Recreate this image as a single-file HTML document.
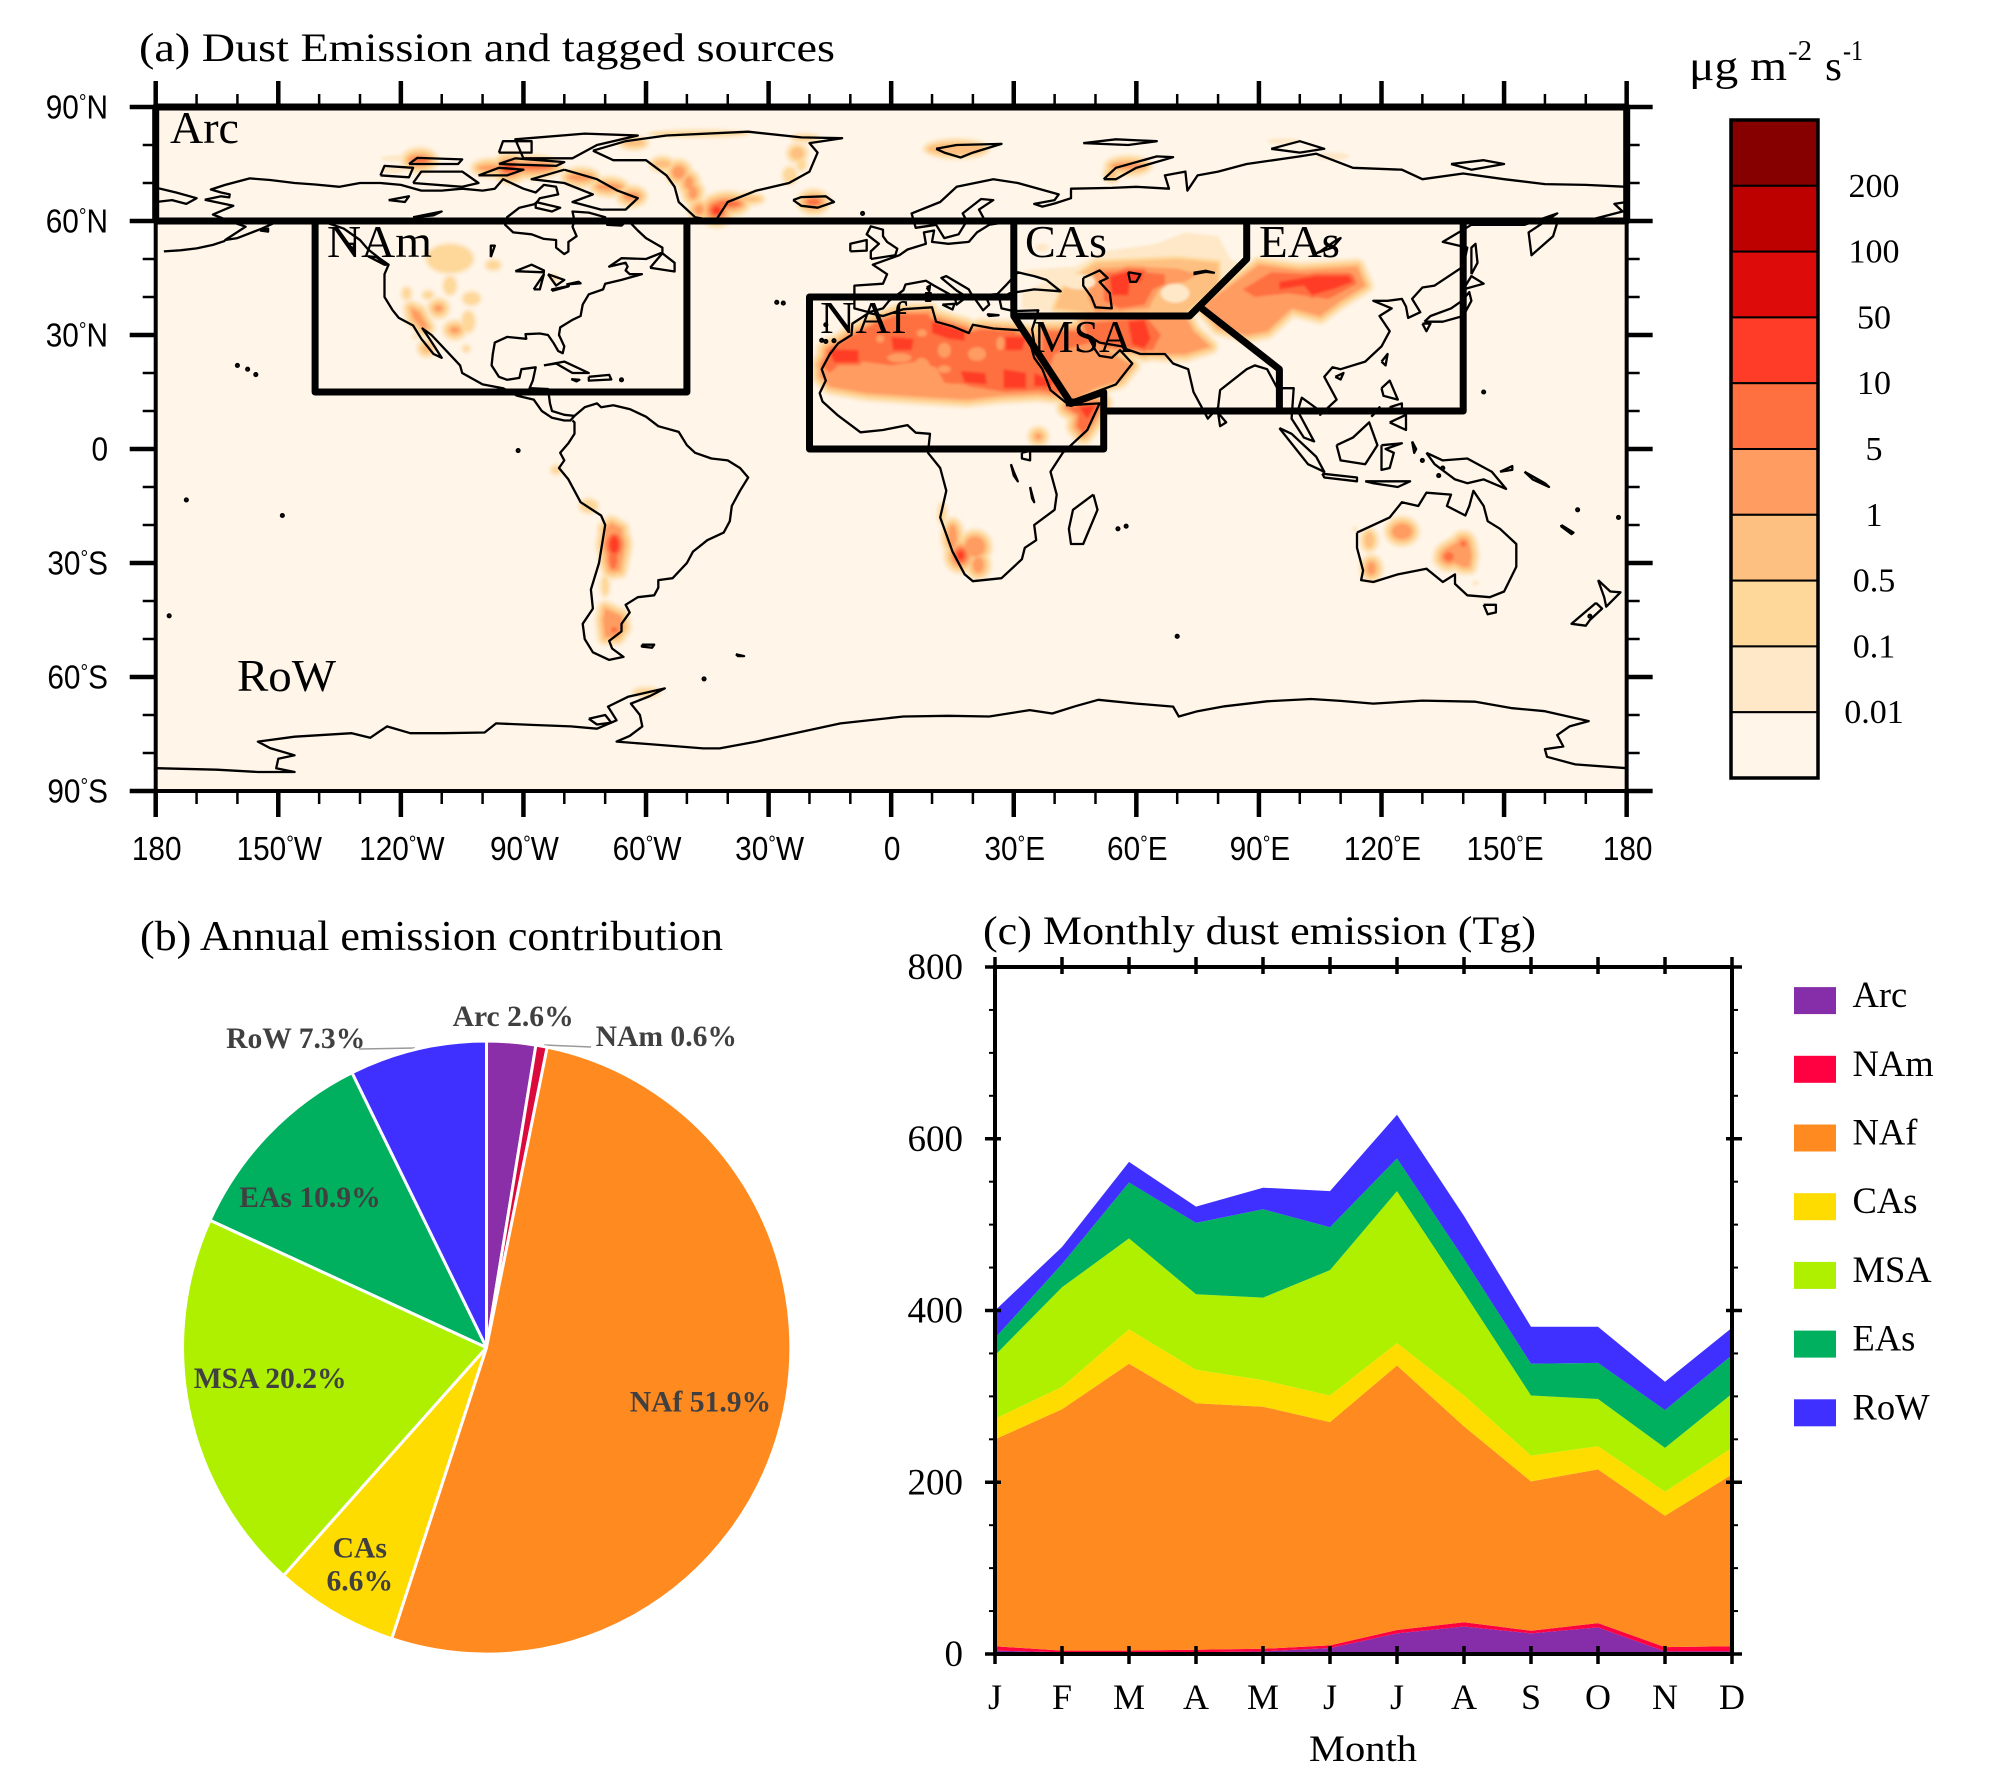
<!DOCTYPE html>
<html lang="en">
<head>
<meta charset="utf-8">
<title>Dust emission and tagged sources</title>
<style>
html,body{margin:0;padding:0;background:#fff;}
svg{display:block;}
.serif{font-family:"Liberation Serif",serif;fill:#000;}
.sans{font-family:"Liberation Sans",sans-serif;fill:#000;}
</style>
</head>
<body>
<svg id="figure" xmlns="http://www.w3.org/2000/svg" width="1997" height="1792" viewBox="0 0 1997 1792">
  <defs>
    <clipPath id="map-clip"><rect x="155.7" y="107" width="1471" height="684"/></clipPath>
    <filter id="soft" x="-5%" y="-5%" width="110%" height="110%"><feGaussianBlur stdDeviation="1.2"/></filter>
  </defs>
  <rect x="0" y="0" width="1997" height="1792" fill="#fff"/>

  <text class="serif" x="139" y="61" font-size="40" textLength="696" lengthAdjust="spacingAndGlyphs">(a) Dust Emission and tagged sources</text>
  <text class="serif" x="140" y="950" font-size="42" textLength="583" lengthAdjust="spacingAndGlyphs">(b) Annual emission contribution</text>
  <text class="serif" x="983" y="944" font-size="40" textLength="553" lengthAdjust="spacingAndGlyphs">(c) Monthly dust emission (Tg)</text>

  <g id="map-layer">
    <rect x="155.7" y="107" width="1471" height="684" fill="#fff5e8"/>
    <g clip-path="url(#map-clip)">
      <g id="dust-layer" filter="url(#soft)"></g>
      <g id="coast-layer" fill="none" stroke="#000" stroke-width="2.3" stroke-linejoin="round"></g>
    </g>
    <g id="map-axis-layer"></g>
    <g id="region-layer" fill="none" stroke="#000" stroke-width="7" stroke-linejoin="round"></g>
    <text class="serif" x="170" y="143" font-size="46" textLength="69" lengthAdjust="spacingAndGlyphs">Arc</text>
    <text class="serif" x="327" y="257" font-size="46" textLength="105" lengthAdjust="spacingAndGlyphs">NAm</text>
    <text class="serif" x="820" y="333" font-size="46" textLength="87" lengthAdjust="spacingAndGlyphs">NAf</text>
    <text class="serif" x="1025" y="257" font-size="46" textLength="82" lengthAdjust="spacingAndGlyphs">CAs</text>
    <text class="serif" x="1259" y="257" font-size="46" textLength="81" lengthAdjust="spacingAndGlyphs">EAs</text>
    <text class="serif" x="1033" y="352" font-size="46" textLength="99" lengthAdjust="spacingAndGlyphs">MSA</text>
    <text class="serif" x="237" y="691" font-size="46" textLength="99" lengthAdjust="spacingAndGlyphs">RoW</text>
  </g>

  <g id="colorbar-layer">
    <text class="serif" x="1689" y="80" font-size="42" textLength="98" lengthAdjust="spacingAndGlyphs">μg m</text>
    <text class="serif" x="1788" y="60" font-size="28" textLength="24" lengthAdjust="spacingAndGlyphs">-2</text>
    <text class="serif" x="1825" y="80" font-size="42" textLength="17" lengthAdjust="spacingAndGlyphs">s</text>
    <text class="serif" x="1843" y="60" font-size="28" textLength="20" lengthAdjust="spacingAndGlyphs">-1</text>
  </g>

  <g id="pie-layer">
    <line x1="359" y1="1049" x2="415" y2="1048" stroke="#9a9a9a" stroke-width="1.5"/>
    <line x1="544" y1="1045" x2="591" y2="1047" stroke="#9a9a9a" stroke-width="1.5"/>
  </g>

  <g id="area-layer">
    <text class="serif" x="1309" y="1761" font-size="37" textLength="108" lengthAdjust="spacingAndGlyphs">Month</text>
  </g>
  <g id="legend-layer"></g>
</svg>

<script>
/* ---------- panel (c) monthly emission, Tg per month ---------- */
var months = ['J','F','M','A','M','J','J','A','S','O','N','D'];
var arcMonthly = [4,2,2,2,3,7,24,32,24,31,3,3];
var namMonthly = [5,2,2,3,3,3,4,5,3,5,5,6];
var nafMonthly = [241,281,334,287,282,260,308,228,174,179,153,200];
var casMonthly = [24,26,40,39,31,31,26,36,30,27,28,31];
var msaMonthly = [74,116,106,88,96,146,177,120,70,55,51,63];
var easMonthly = [20,27,65,83,103,50,38,39,37,42,44,45];
var rowMonthly = [32,20,24,19,25,42,51,50,43,42,33,32];
var sourceNames = ['Arc','NAm','NAf','CAs','MSA','EAs','RoW'];
var sourceColors = ['#862da9','#ff0040','#ff8a1f','#ffdc00','#aef000','#00b05f','#3f30ff'];
var monthlyTicks = [0,200,400,600,800];
var monthlyMinorTicks = [50,100,150,250,300,350,450,500,550,650,700,750];

/* ---------- panel (b) annual contribution, percent ---------- */
var pieValues = [2.6,0.6,51.9,6.6,20.2,10.9,7.3];
var pieColors = ['#8a2fa8','#dc0a3c','#ff8a1f','#ffdc00','#aef000','#00b05f','#3f30ff'];

/* ---------- colour bar ---------- */
var levelLabels = ['200','100','50','10','5','1','0.5','0.1','0.01'];
var levelColors = ['#870000','#bd0000','#de0b0b','#ff3c28','#ff7040','#ff9c62','#fec080','#fed89a','#fee8c8','#fff5e8'];
var dustColors = ['#fee8c8','#fed89a','#fec080','#ff9c62','#ff7040','#ff3c28'];

/* ---------- map axis labels ---------- */
var lonTicks = [-180,-150,-120,-90,-60,-30,0,30,60,90,120,150,180];
var lonLabels = ['180','150°W','120°W','90°W','60°W','30°W','0','30°E','60°E','90°E','120°E','150°E','180'];
var latTicks = [90,60,30,0,-30,-60,-90];
var latLabels = ['90°N','60°N','30°N','0','30°S','60°S','90°S'];

/* ---------- tagged source region outlines [lon,lat,...] ---------- */
var regionArc = [-180,60,-180,90,180,90,180,60,-180,60];
var regionNAm = [-141,60,-141,15,-50,15,-50,60];
var regionNAf = [30,40,-20,40,-20,0,52,0,52,15,44,12,30,35];
var regionCAs = [30,60,30,35,73,35,87,50,87,60];
var regionMSA = [76,37,95,21,95,10];
var regionLow = [52,10,140,10,140,60];
var regionAll = [regionArc,regionNAm,regionNAf,regionCAs,regionMSA,regionLow];
var regionIds = ['arc','nam','naf','cas','msa-eas-divider','southern-east-boundary'];

/* ---------- dust emission: contour patches, level = index into dustColors ---------- */
var dustPatches = [
 {level:3,pts:[-17.5,19,-17.5,22,-15.5,26,-10,30,-4,33.5,2,36,9.5,36.5,10.5,34,18.5,31,22,32,30,31.5,36,27,42,18,44,13.5,36,14.5,26.7,14,18.5,13,6.3,13.8,-6,14.7,-15,16.4]},
 {level:4,pts:[-17,22,-15,26,-10,29.6,-4,33,2,35.5,9,35.5,10,33.5,18.5,30.5,22,31.5,30,31,36,26,41,18,43,14.5,36,15.5,28,15,22,16,13,17.5,11,21.5,6,23,0,22,-7,23,-12,23,-15,20]},
 {level:5,pts:[-15,25.5,-14,26.2,-8,26,-8,22.8,-14,22.8]},
 {level:5,pts:[0,29.5,5.5,29,5,26,0.5,26]},
 {level:5,pts:[10,33.5,18,31,18,28.5,14,29,10,30.5]},
 {level:5,pts:[28,29.5,33,29.5,32,26,28,26]},
 {level:5,pts:[17,20.5,23,20,23.4,17,18,17.5]},
 {level:5,pts:[27.5,21,33,20,33,16,27.5,16]},
 {level:5,pts:[35,20,39.5,18,39,16.4,35,16.5]},
 {level:3,pts:[36,30,45,32,48,30,51,27,55,24.5,59,22,56,18,50,16,45,13,43,13,39,20,35,27]},
 {level:4,pts:[37,31,47,31,49,28,45,27,40,25,39,22,37,24]},
 {level:3,pts:[47,35,72,35,74,31,78,27,72,25,67,25,58,26,50,28]},
 {level:4,pts:[47,33,57,34,63,34,66,30,64,26,52,27,48,30]},
 {level:5,pts:[58,33.5,62,34,63.5,29,62,26.5,59,27.5]},
 {level:4,pts:[43,11,51.5,12,49,7,47,4,45.5,6,46,9]},
 {level:5,pts:[46,11,50,11.5,48,8]},
 {level:0,pts:[32,47,45,48,52,52,65,54,72,57,80,56,83,50,87,48,82,42,74,36,50,35,40,36,32,37,32,41,38,44]},
 {level:2,pts:[50,49,70,50,80,49,80,43,72,36,48,36,40,37,42,42,46,46]},
 {level:3,pts:[50,47.5,60,48,70,47.5,75,46,72,44,66,43,63,37,50,36,48,40]},
 {level:4,pts:[52,46.5,62,46.5,67,46,67,43.5,64,42,62,38,56,37,52,39]},
 {level:5,pts:[53.5,45.4,58,46.7,61.7,46.5,61,44,58.4,44,58,40.5,54,40.5]},
 {level:3,pts:[76,37.5,90,48.5,100,47,114,48,116,43,110,39,105,35,98,37,92,31,87,30,80,32]},
 {level:4,pts:[86,42,93,46.5,102,46,113,46,114,43.5,107,39.5,97,41,89,40]},
 {level:5,pts:[95,44,104,45.6,112,45.6,113,44,108,42,103,40.5,101,43,95,42]},
 {level:3,pts:[-68.5,-19.5,-66,-21,-65.5,-27,-66.5,-32,-69,-32,-70,-26,-70,-21]},
 {level:3,pts:[-70,-42,-66,-44,-65.5,-47,-67,-49.5,-70,-49.5,-70.5,-45]},
 {level:3,pts:[139.5,-24,141.5,-25,142,-28,141.5,-31,140,-31,137,-29.5,134.5,-29,135.5,-26.5,137,-25.5]},
 {level:3,pts:[-117.5,37,-115.5,36,-113.5,32,-114.5,31.5,-117,34.5]}
];
/* [lon, lat, lon radius, lat radius, level] */
var dustBlobs = [
 [-67.8,-25.2,1.1,2.2,5],[-68,-28.5,1,3,4],[-70,-36,0.8,2.5,1],[-74,-15,2,1.6,1],[-82,-5.5,1,0.9,1],[-67.8,-47.6,0.8,0.8,4],
 [12.5,-17,0.8,2.5,1],[15,-23,1,3,3],[17,-28,0.8,1.2,5],[20.5,-25.7,2.4,2.6,3],[21.3,-30.5,1.3,2,3],
 [125,-21.7,2.4,2,3],[117,-24,1.1,2,2],[117.5,-31.4,1,1.6,3],[136.5,-28.3,1.2,1.2,4],[140,-25,0.7,0.8,4],[143,-35.3,0.8,0.7,0],[113.5,-21,0.7,0.7,0],
 [-108,50.1,5.5,3.6,1],[-97.4,48.4,1.6,1.1,1],[-108,43,1.4,2.2,1],[-118.6,40.9,0.9,1.4,1],[-113.3,40.5,1.1,0.9,1],[-102.7,39.6,1.9,1.5,1],
 [-110.8,37,0.9,0.8,3],[-103.5,33.5,1.4,2.6,1],[-106.8,31.3,1.1,0.7,3],[-113.7,26.5,1.2,1.2,2],[-104,26.4,0.6,0.6,1],[-116.5,29.5,1,0.8,0],[-82.3,44.9,0.5,0.5,1],
 [-60,-64,3,1,1],[36,3.3,0.7,0.7,3],
 [-42.7,62.8,1,1,5],[-40,64.5,3,0.7,4],[-35,65.8,3,0.6,2],[-47,63,1,1.2,3],
 [-56,75,2,1,2],[-52,72.8,1.5,1.6,3],[-49.5,70,1,1.6,3],[-48.5,67.5,1,1.6,3],
 [-63,80.5,2.5,0.7,2],[-47,83,12,0.6,1],[-23,77.8,1.5,1.5,2],[-24.8,72,1.5,2,1],[-21,81.8,3,0.8,1],[-22,75,1,1.5,1],
 [-93.3,73.9,1.4,0.6,5],[-88,74.2,5,0.5,4],[-98,74,3,0.6,3],[-76,71.5,3,0.8,3],[-69,69,3,0.8,3],[-63.5,66.5,2,1,3],[-115.4,76,2,0.6,4],[-120,76.5,5,0.8,0],[-122,73.5,3,1,0],[-100,73,2,0.8,1],
 [-19,65,1.5,0.7,4],[-18,65.3,4,1,0],[16,79,7,1.5,2],[58,74.5,4,0.8,3],[54,72.5,1,1.4,2],[96,81,4,0.8,0],[108,77,4,1,0],[37,53,1.6,1,0]
];
/* lower-emission pockets inside the contours [lon, lat, lon radius, lat radius, level] */
var dustPockets = [
 [13,26,1.6,2,3],[21,25,2.2,1.8,3],[7.5,30.5,1.3,1,3],[-2.7,29,1,1,3],[2,24,3,1.2,3],[7.5,21.5,2,2.5,3],[16,16,3.5,1.2,3],[26.7,27.8,1,1.8,3],[13,21,1.6,1,3],
 [69.5,41,3.5,2.5,0],[46,44,4,2,0]
];

/* ---------- coastlines [lon,lat,...] ---------- */
var coastNorthAmerica = [-168,65.6,-164,66.5,-162,66.2,-161.9,67,-164,67.5,-166.5,68.3,-163,69.5,-157,71.2,-152,70.8,-146,70,-141,69.6,-135,69,-130,70,-125,70,-120,69.5,-115,68,-110,68,-105,68.5,-100,68,-97,68.5,-95,71,-92,69.5,-90,68.5,-87,67.5,-85,69.5,-82,69,-81.5,67,-86,66,-87,64.5,-91,63.5,-94,61,-94.5,59,-92.5,57,-88,56.5,-85,55.3,-82,55,-82,53,-80,51.3,-79,52,-79,54.5,-77,56,-78,58.5,-77.5,60,-78,62.5,-74,62.2,-70,61,-69.5,59,-66,58.8,-64.5,60.3,-62,57.5,-60,55.5,-56,53,-56,51.7,-60,50,-66,50.2,-69,48,-65,49,-64.5,48,-65,47,-64,46,-61,46,-66,44.5,-70,43.5,-70.5,42,-74,40.7,-75.5,38,-76,35,-78,34,-81,32,-81.3,30,-80,27,-80.4,25.2,-81.5,25.8,-82.7,28,-84,30,-86,30.4,-89.5,30.2,-89.3,29,-94,29.5,-97,28,-97.5,25,-97.8,22,-96,19,-94,18.2,-91,18.7,-90.5,21,-87,21.5,-87.7,18,-88.5,16,-84,15.8,-83.5,12,-83,10,-80,9,-77.5,8.7,-78.5,7.5,-80,7.5,-83,8.2,-85.5,10,-87.5,13,-91.5,14,-95,16,-100,17,-105,20,-105.5,22,-109,26,-112.5,30,-114.7,31.7,-113,29,-110,24,-112,25,-115,29,-117,32.5,-120.5,34.5,-122,36.5,-124,40,-124,46,-123,48.5,-125,50,-128,52.5,-130,55,-134,58,-138,59.5,-144,60,-148,60.5,-151,59.5,-154,58,-160,55.5,-163,55,-158,58.5,-162,60,-166,61.7,-161,64,-168,65.6];
var coastSouthAmerica = [-77.5,8.7,-75,11,-72,12,-71,11,-68,11.5,-64,10.5,-60,8.5,-57,6,-52,4.5,-50,1,-48,-1,-44,-2.5,-40,-3,-37,-5,-35,-7.5,-37,-11,-39,-15,-39.5,-19,-41,-22,-45,-24,-48.5,-27,-50,-30,-53.5,-34,-57,-34.5,-57,-36.5,-58,-38.5,-62,-39,-65,-41,-64,-43,-66,-46,-66,-48,-69,-50.5,-68.3,-52.5,-65.5,-54.7,-69,-55.5,-73,-53.5,-75,-50,-75.5,-46,-73,-42,-73.5,-37,-71.5,-30,-70,-20,-71,-17.5,-76,-14,-79,-8,-81.3,-5,-80,-3,-81,-1,-79,1.5,-77.5,4,-77.5,7,-78,7.5];
var coastAfrica = [-5.5,35.8,-2,35,3,36.8,10,37.3,11,33.5,15,32.3,19,30.5,20,32.7,25,31.7,32,31.2,34,28,35,24,37,21,39,15.5,43,12,43,11.5,51,12,48,5,42,-1,39,-6,40.5,-12,40,-16,35,-20,35.5,-24,32.7,-26,32,-29,27,-34,20,-34.8,18,-33,15,-27,12,-18,13.5,-11,12,-5,9,-1,9.5,4,6,4.3,4,6.3,-2,5,-7.5,4.4,-13,8.8,-16.8,12.5,-17.5,14.7,-16,18,-17,21,-15,25,-13,27.8,-9.7,30,-9.5,33,-5.5,35.8];
var coastEurasiaNorth = [-5.5,36,-9,37,-9,43,-2,43.5,-1,46,-4.5,48.5,2,51,4,52.5,8.5,54,8,57,10.5,57.5,10,54.5,14,54,19,54.5,21,57,24,59,30,60,23,60,21.5,63,25,65.5,22,65.8,17.5,62,18.5,60,16.5,56.5,13,55.5,11,59,6,58.2,5,62,12,65,16,69,25,71,31,70,41,67,40,65.5,35,64.5,37,63.8,40,64.6,44,66,44,68.5,54,68.7,60,69,68,68.5,67,72,72,73,72.5,68,75,72,80,73,87,75,100,77,104,77.7,113,74,125,73.5,130,71,140,72.5,150,71,160,69.7,170,69.5,180,69];
var coastChukotka = [-180,68.8,-175,67.5,-170,66,-172.5,64.5,-176,65.5,-180,65];
var coastEurasiaSouth = [180,65,177,64.5,179,62.5,170,60,163,59.5,162,56,156.7,51,156,57,163,62,155,59,142,59,135,54.5,141,53,140,48,133,43,130,42.5,127.5,39.5,129.5,36,126.5,34.5,126,37.5,125,39.5,121.5,39,118,39,122.5,37,119.5,35,122,31,120,27,116,23,110,21,108,21.5,106,19,109,13,105,9,105,10,100.5,13.5,99.5,10,103.5,2,101,3,98,8,98.5,16,94.5,16,92,21,89,22,87,21,80.5,15.5,80,11,77.5,8,74,15,72.7,21,69,22.5,67,25,61,25,57,26.5,56.5,27,51,28,48,30,50,26,51,24.5,54,24,56,26,59,22.5,55,17,45,13,43,13,39,21,35,28,34.5,31.5,36,36.5,30,36.3,27,37,26.5,39.5,29,41,35,42,41.5,41.5,38,44.5,35,45.5,33,46,31,46.5,28,43,26,40.8,23,40.5,24,38,22.5,36.5,19.5,41,19,42,13.5,45.5,12.3,45,16,41.7,18.5,40,16,38,15.5,40,10.5,43,8.5,44.3,3.5,43.3,3,41.8,-0.5,39,-2,37,-5.5,36];
var coastGreenland = [-73,78.5,-65,81,-55,82.5,-35,83.5,-22,82,-12,81.8,-20,80.5,-18,78,-20,73,-25,70,-33,68,-40,65,-43,60,-48,61,-52,65,-53,69,-55,72,-60,76,-68,76,-73,78.5];
var coastBaffin = [-80,73.5,-72,71,-67,68,-62,66,-65,63,-71,63,-78,65,-73,67,-80,70,-88,71,-80,73.5];
var coastEllesmere = [-90,76.5,-78,76.5,-72,80,-62,82.5,-75,83,-92,81.5,-90,76.5];
var coastVictoria = [-117,70,-105,69,-101,70,-105,73,-115,73,-117,70];
var coastBanks = [-125,72,-118,71.5,-117,74,-124,74.5,-125,72];
var coastMelville = [-118,75,-106,75,-105,76.2,-116,76.6,-118,75];
var coastDevon = [-96,75,-82,74.5,-80,75.5,-92,76.5,-96,75];
var coastAxel = [-96,78,-88,78,-88,81,-95,81,-96,78];
var coastSomerset = [-101,72,-94,72,-90,73.5,-96,74,-101,72];
var coastSouthampton = [-87,65,-81,63.5,-83,62.5,-87,63.5,-87,65];
var coastNewfoundland = [-59,47.7,-53,46.7,-53,49,-56,51.5,-59,47.7];
var coastIceland = [-24,65.5,-22,66.3,-16,66.5,-14,65,-18,63.5,-22,64,-24,65.5];
var coastSvalbard = [11,79,16,80,27,80.3,20,78,17,76.7,13,78,11,79];
var coastNovaya = [52,71,55,74,65,77,69,76.8,60,74,55,71,52,71];
var coastFranzJosef = [47,80.5,55,81.5,65,81,58,80,47,80.5];
var coastSevernaya = [93,79,100,81,106,79,100,78,93,79];
var coastNewSiberian = [137,75,145,76,150,75,142,73.5,137,75];
var coastBritain = [-5,50,1,51,1.5,52.7,-1,54.5,-2,56,-2,57.7,-5,58.6,-6,56.5,-3,54,-5,52,-5,50];
var coastIreland = [-10,52,-6,52.2,-6,55,-10,54,-10,52];
var coastHonshu = [130.5,33.5,135,33.5,140,35,142,39,141.5,41.3,139.7,39,137,37,132,35,130.5,33.5];
var coastHokkaido = [140,42,145,43.5,142,45.5,140,42];
var coastKyushu = [130,33,132,33,131,31,130,33];
var coastSakhalin = [142,46,143.5,49,143,54,142,53,142,46];
var coastTaiwan = [120,23,121.5,25,121,22,120,23];
var coastHainan = [108.7,19,110.7,20,110,18.3,108.7,19];
var coastLuzon = [120,16,122,18,124,13,120.5,14,120,16];
var coastMindanao = [122,7,126,9,126,5,122,7];
var coastVisayas = [122,11,125,12,125,10,122,10,122,11];
var coastPalawan = [117.5,8.5,119.5,11,119,10,117.5,8.5];
var coastBorneo = [109,1,113,3,117,7,119,1,116,-4,110,-3,109,1];
var coastSumatra = [95,5.5,98,4,104,-2,106,-6,102,-4,95,5.5];
var coastJava = [105.5,-6.5,114,-7.5,114,-8.5,106,-7.5,105.5,-6.5];
var coastSulawesi = [120,1,125,1.5,121,0,123,-1,122,-5,120,-5.5,120,1];
var coastTimor = [116,-8.5,125,-8.5,127,-8.5,124,-10,118,-9,116,-8.5];
var coastHalmahera = [127.5,2,128.5,0,128,-1,127.5,2];
var coastNewGuinea = [131,-1,135,-3,141,-2.5,147,-6,150.5,-10.5,145,-8,141,-9,138,-8,133,-4,131,-1];
var coastNewBritain = [149,-6,152,-4.5,152,-5.5,149,-6];
var coastSolomon = [155,-6,160,-9,161,-10,157,-8,155,-6];
var coastNewCaledonia = [164,-20,167,-22,166.5,-22.4,164,-20.4,164,-20];
var coastSriLanka = [80,9.5,82,7,80.5,6,80,9.5];
var coastMadagascar = [49.5,-12,50.5,-16,47,-25,44,-25,43.5,-21,44.5,-16,49.5,-12];
var coastAustralia = [114,-22,114,-26,115.5,-32,115,-34.5,118,-35,124,-33,131,-31.5,135,-35,138,-33,138,-35.5,141,-38.5,146.5,-39,150,-37.5,153,-31,153,-25,149,-21,146,-19,145,-15,142.5,-11,141.5,-15,140.5,-17.5,136,-15,137,-12,131,-11.5,129,-15,125,-14,122,-18,114,-22];
var coastTasmania = [145,-41,148,-41,148,-43,146,-43.5,145,-41];
var coastNZNorth = [173,-34.5,176,-37.5,178.5,-37.7,175,-41.5,174.5,-39,173,-34.5];
var coastNZSouth = [172.5,-40.5,174,-42,171,-45,170,-46.5,166.5,-46,172.5,-40.5];
var coastCuba = [-85,22,-80,23,-74,20,-78,20,-82,22.5,-85,22];
var coastHispaniola = [-74,19,-69,19.5,-68.5,18.3,-74,18,-74,19];
var coastJamaica = [-78.3,18.4,-76.3,18.2,-77,17.8,-78.3,18.4];
var coastVancouver = [-128,50.7,-124,48.5,-123.5,48.5,-126,50.5,-128,50.7];
var coastHaidaGwaii = [-133,54,-131.5,54,-131.5,52.5,-133,54];
var coastKodiak = [-154.5,57.5,-152.5,58,-152.5,57.2,-154.5,57.5];
var coastAleutians = [-178,52,-174,52.3,-170,52.8,-166,53.7,-163,54.8];
var coastSardinia = [8.3,41,9.7,41,9.6,39,8.5,39,8.3,41];
var coastCorsica = [8.7,42.5,9.5,43,9.3,41.5,8.7,42.5];
var coastSicily = [12.5,38,15.5,38.2,15,36.7,12.5,38];
var coastCrete = [23.5,35.5,26.3,35.2,24,35,23.5,35.5];
var coastCyprus = [32.5,35,34.5,35.6,33.5,34.7,32.5,35];
var coastFalklands = [-61,-51.5,-58,-51.5,-58.5,-52.3,-61,-52,-61,-51.5];
var coastGeorgia = [-38,-54,-36,-54.5,-37.5,-54.5,-38,-54];
var coastAntarctica = [-180,-84,-165,-84.4,-155,-85,-146,-85,-150.5,-84,-150,-81.5,-146,-80.6,-152,-78.7,-155,-77,-146,-75.7,-132,-74.8,-127.5,-76,-123.4,-73,-117.7,-74.8,-109.6,-74.8,-99.5,-74.6,-96.7,-72.2,-88,-72.6,-78.4,-73,-72,-73.6,-67.2,-71.4,-69.3,-67.8,-64.4,-65.2,-55.4,-63,-59,-65,-63.7,-67,-61.5,-70,-60.9,-73,-64,-75.5,-67.2,-77,-60,-77.6,-46,-78.8,-42,-78.8,-33,-77,-23.6,-74.8,-12.4,-72.2,3,-70.4,14,-70.2,24,-70.4,33.9,-68.7,39.4,-69.6,45,-67.7,50.7,-66,60,-67,69,-67.8,70.4,-70.4,75,-69,81.6,-67.7,92,-66.4,102.8,-65.8,110,-66.3,118,-67,130,-66.2,143,-66.5,152,-68.2,160,-69,170.7,-71.6,166,-73,163,-75.3,164.5,-78.3,160,-79,160.5,-81,167.4,-83,180,-84];
var coastRonneIsland = [-74,-71,-70,-70,-68.5,-72,-72,-72.5,-74,-71];
var coastLakeSuperior = [-92,46.8,-88,48.5,-85,47,-85,46.5,-92,46.8];
var coastLakeMichigan = [-87.5,42,-85,46,-86,42,-87.5,42];
var coastLakeHuron = [-84,46,-80,44.5,-82,43,-84,46];
var coastLakeErie = [-83,41.6,-79,42.8,-78.9,42.9,-83,42,-83,41.6];
var coastLakeOntario = [-79.5,43.3,-76,43.6,-76.5,44,-79.5,43.3];
var coastGreatBear = [-123,65.5,-118,66.5,-119,65,-123,65.5];
var coastGreatSlave = [-117,61,-110,62.5,-112,61.5,-117,61];
var coastWinnipeg = [-98,50.5,-97,53.5,-98,53.5,-98,50.5];
var coastCaspian = [47,45,51,47,53,45,51,44,53.5,41,54,37,50,37.3,49,40,47,43,47,45];
var coastAral = [58,46.5,61,46,60,44,58.5,44,58,46.5];
var coastBalkhash = [74,46,77,46.6,79,46.4,77,46.9,74,46.4];
var coastBaikal = [104,51.5,108,53,110,55.5,109,55,105,52,104,51.5];
var coastVictoriaLake = [32,-1,34,-0.5,34,-3,32,-2.5,32,-1];
var coastTanganyika = [29.3,-4,30,-7,31,-8.5,30,-6,29.3,-4];
var coastMalawi = [34,-10,35,-14,34.5,-13,34,-10];
var coastlines = [coastNorthAmerica,coastSouthAmerica,coastAfrica,coastEurasiaNorth,coastChukotka,coastEurasiaSouth,coastGreenland,coastBaffin,coastEllesmere,coastVictoria,coastBanks,coastMelville,coastDevon,coastAxel,coastSomerset,coastSouthampton,coastNewfoundland,coastIceland,coastSvalbard,coastNovaya,coastFranzJosef,coastSevernaya,coastNewSiberian,coastBritain,coastIreland,coastHonshu,coastHokkaido,coastKyushu,coastSakhalin,coastTaiwan,coastHainan,coastLuzon,coastMindanao,coastVisayas,coastPalawan,coastBorneo,coastSumatra,coastJava,coastSulawesi,coastTimor,coastHalmahera,coastNewGuinea,coastNewBritain,coastSolomon,coastNewCaledonia,coastSriLanka,coastMadagascar,coastAustralia,coastTasmania,coastNZNorth,coastNZSouth,coastCuba,coastHispaniola,coastJamaica,coastVancouver,coastHaidaGwaii,coastKodiak,coastAleutians,coastSardinia,coastCorsica,coastSicily,coastCrete,coastCyprus,coastFalklands,coastGeorgia,coastAntarctica,coastRonneIsland,coastLakeSuperior,coastLakeMichigan,coastLakeHuron,coastLakeErie,coastLakeOntario,coastGreatBear,coastGreatSlave,coastWinnipeg,coastCaspian,coastAral,coastBalkhash,coastBaikal,coastVictoriaLake,coastTanganyika,coastMalawi];
/* small islands [lon,lat] */
var smallIslands = [[-160,22],[-157.5,21],[-155.5,19.6],[-172.5,-13.4],[-149,-17.5],[-176.7,-43.9],[-91.3,-0.4],[-16,28.3],[-14,28.5],[-17,28.6],[-26.4,38.4],[-28,38.6],[-45.8,-60.5],[70,-49.3],[55.5,-21],[57.5,-20.3],[-7,62],[168,-16],[178,-18],[-16,32.7],[-61,15],[-66,18.2],[135,-5],[130,-3],[134,-7],[145,15],[171,-44]];

var SVGNS = 'http://www.w3.org/2000/svg';

/* ---------- axis functions ---------- */
function lonX(lon){ return 155.7 + (lon + 180) * 4.086; }
function latY(lat){ return 449 - lat * 3.8; }
function monthX(i){ return 995 + i * (737 / (months.length - 1)); }
function tgY(v){ return 1654 - v * (687 / 800); }
function pieAngle(pct, total){ return pct / total * 2 * Math.PI; }
function levelY(i){ return 120 + i * 65.8; }

function geoPath(arr){
  var d = '';
  for (var i = 0; i < arr.length; i += 2) {
    d += (i === 0 ? 'M' : 'L') + lonX(arr[i]).toFixed(1) + ' ' + latY(arr[i + 1]).toFixed(1);
  }
  return d;
}
function make(tag, attrs, parent){
  var el = document.createElementNS(SVGNS, tag);
  for (var k in attrs) { el.setAttribute(k, attrs[k]); }
  parent.appendChild(el);
  return el;
}

/* ---------- dust field ---------- */
(function(){
  var g = document.getElementById('dust-layer');
  var halo = 3;
  for (var k = 0; k < dustColors.length; k++) {
    dustPatches.forEach(function(p){
      if (p.level < k) { return; }
      var el = make('path', {d: geoPath(p.pts) + 'Z', fill: dustColors[k], stroke: dustColors[k], 'stroke-width': 2 * halo * (p.level - k), 'stroke-linejoin': 'round'}, g);
      
      
    });
    dustBlobs.forEach(function(b){
      if (b[4] < k) { return; }
      var el = make('ellipse', {cx: lonX(b[0]), cy: latY(b[1]), rx: b[2] * 4.086 + halo * (b[4] - k), ry: b[3] * 3.8 + halo * (b[4] - k), fill: dustColors[k]}, g);
      
      
    });
  }
  dustPockets.forEach(function(b){
    var el = make('ellipse', {cx: lonX(b[0]), cy: latY(b[1]), rx: b[2] * 4.086, ry: b[3] * 3.8, fill: dustColors[b[4]]}, g);
    
    
  });
  g = document.getElementById('coast-layer');
  coastlines.forEach(function(c){
    var el = make('path', {d: geoPath(c)}, g);
    
    
  });
  smallIslands.forEach(function(s){
    var el = make('circle', {cx: lonX(s[0]), cy: latY(s[1]), r: 1.4}, g);
    
    
  });
})();

/* ---------- map axes ---------- */
(function(){
  var g = document.getElementById('map-axis-layer');
  function seg(x1, y1, x2, y2, w, name){
    var el = make('line', {x1: x1, y1: y1, x2: x2, y2: y2, stroke: '#000', 'stroke-width': w}, g);
    
    
  }
  var x0 = lonX(-180), x1 = lonX(180), y0 = latY(90), y1 = latY(-90);
  seg(x0, y0, x1, y0, 4, 'map-top-axis');
  seg(x0, y1, x1, y1, 4, 'map-bottom-axis');
  seg(x0, y0, x0, y1, 4, 'map-left-axis');
  seg(x1, y0, x1, y1, 4, 'map-right-axis');
  var lon, lat;
  for (lon = -180; lon <= 180; lon += 10) {
    var major = lon % 30 === 0;
    var len = major ? 26 : 13;
    var w = major ? 4.5 : 2.5;
    seg(lonX(lon), y0, lonX(lon), y0 - len, w, 'map-top-tick');
    seg(lonX(lon), y1, lonX(lon), y1 + len, w, 'map-bottom-tick');
  }
  for (lat = -90; lat <= 90; lat += 10) {
    var majorLat = lat % 30 === 0;
    var lenLat = majorLat ? 26 : 13;
    var wLat = majorLat ? 4.5 : 2.5;
    seg(x0, latY(lat), x0 - lenLat, latY(lat), wLat, 'map-left-tick');
    seg(x1, latY(lat), x1 + lenLat, latY(lat), wLat, 'map-right-tick');
  }
  function label(str, x, y, anchor, name){
    var t = make('text', {x: 0, y: 0, 'text-anchor': anchor, 'class': 'sans', 'font-size': 31, transform: 'translate(' + x + ' ' + y + ') scale(0.96 1.08)'}, g);
    
    
    var parts = str.split('°');
    t.appendChild(document.createTextNode(parts[0]));
    if (parts.length > 1) {
      var deg = make('tspan', {'font-size': 20, dy: -9}, t);
      
      
      deg.textContent = '°';
      var rest = make('tspan', {dy: 9}, t);
      
      
      rest.textContent = parts[1];
    }
  }
  lonTicks.forEach(function(v, i){ label(lonLabels[i], lonX(v) + 1, 860, 'middle', 'longitude-tick-label'); });
  latTicks.forEach(function(v, i){ label(latLabels[i], 108, latY(v) + 11.5, 'end', 'latitude-tick-label'); });
  var r = document.getElementById('region-layer');
  regionAll.forEach(function(a, i){
    var el = make('path', {d: geoPath(a)}, r);
    
    
  });
})();

/* ---------- colour bar ---------- */
(function(){
  var g = document.getElementById('colorbar-layer');
  levelColors.forEach(function(c, i){
    var el = make('rect', {x: 1731, y: levelY(i), width: 87, height: 65.8, fill: c, stroke: '#000', 'stroke-width': 2}, g);
    
    
  });
  var box = make('rect', {x: 1731, y: levelY(0), width: 87, height: 658, fill: 'none', stroke: '#000', 'stroke-width': 3.5}, g);
  
  
  levelLabels.forEach(function(s, i){
    var t = make('text', {x: 1874, y: levelY(i + 1) + 11, 'text-anchor': 'middle', 'class': 'serif', 'font-size': 34}, g);
    
    
    t.textContent = s;
  });
})();

/* ---------- pie ---------- */
var pieLabelRadius = [1.075,1.168,0.728,0.833,0.72,0.754,1.18];
var pieLabelShift = [0,20,0,0,3,-4.5,-19];
(function(){
  var g = document.getElementById('pie-layer');
  var cx = 486.5, cy = 1347.5, rx = 304, ry = 306.5;
  var total = pieValues.reduce(function(a, b){ return a + b; }, 0);
  var start = 0;
  pieValues.forEach(function(v, i){
    var a0 = pieAngle(start, total), a1 = pieAngle(start + v, total);
    var d = 'M' + cx + ' ' + cy +
      'L' + (cx + rx * Math.sin(a0)).toFixed(1) + ' ' + (cy - ry * Math.cos(a0)).toFixed(1) +
      'A' + rx + ' ' + ry + ' 0 ' + (a1 - a0 > Math.PI ? 1 : 0) + ' 1 ' +
      (cx + rx * Math.sin(a1)).toFixed(1) + ' ' + (cy - ry * Math.cos(a1)).toFixed(1) + 'Z';
    var el = make('path', {d: d, fill: pieColors[i], stroke: '#fff', 'stroke-width': 3, 'stroke-linejoin': 'round'}, g);
    
    
    start += v;
  });
  start = 0;
  pieValues.forEach(function(v, i){
    var mid = pieAngle(start + v / 2, total) + pieLabelShift[i] * Math.PI / 180;
    var px = cx + rx * pieLabelRadius[i] * Math.sin(mid);
    var py = cy - ry * pieLabelRadius[i] * Math.cos(mid);
    var pct = v.toFixed(1) + '%';
    var two = sourceNames[i] === 'CAs';
    var t = make('text', {x: px, y: py + 7, 'text-anchor': 'middle', 'font-size': 29.6, 'font-weight': 'bold', 'font-family': '"Liberation Serif",serif', fill: '#404040'}, g);
    
    
    if (two) {
      t.setAttribute('y', py - 11);
      t.textContent = sourceNames[i];
      var t2 = make('text', {x: px, y: py + 22, 'text-anchor': 'middle', 'font-size': 29.6, 'font-weight': 'bold', 'font-family': '"Liberation Serif",serif', fill: '#404040'}, g);
      
      
      t2.textContent = pct;
    } else {
      t.textContent = sourceNames[i] + ' ' + pct;
    }
    start += v;
  });
})();

/* ---------- stacked area ---------- */
(function(){
  var g = document.getElementById('area-layer');
  var series = [arcMonthly,namMonthly,nafMonthly,casMonthly,msaMonthly,easMonthly,rowMonthly];
  var base = months.map(function(){ return 0; });
  series.forEach(function(s, k){
    var top = base.map(function(b, i){ return b + s[i]; });
    var d = '';
    top.forEach(function(v, i){ d += (i ? 'L' : 'M') + monthX(i).toFixed(1) + ' ' + tgY(v).toFixed(1); });
    for (var i = months.length - 1; i >= 0; i--) { d += 'L' + monthX(i).toFixed(1) + ' ' + tgY(base[i]).toFixed(1); }
    var el = make('path', {d: d + 'Z', fill: sourceColors[k]}, g);
    
    
    base = top;
  });
  var frame = make('rect', {x: monthX(0), y: tgY(800), width: monthX(11) - monthX(0), height: tgY(0) - tgY(800), fill: 'none', stroke: '#000', 'stroke-width': 4}, g);
  
  
  function tick(x1, y1, x2, y2, w, name){
    var el = make('line', {x1: x1, y1: y1, x2: x2, y2: y2, stroke: '#000', 'stroke-width': w}, g);
    
    
  }
  months.forEach(function(m, i){
    var x = monthX(i);
    tick(x, tgY(800) - 10, x, tgY(800) + 7, 3.5, 'x-top-tick');
    tick(x, tgY(0) - 8, x, tgY(0) + 10, 3.5, 'x-bottom-tick');
    var t = make('text', {x: x, y: 1709, 'text-anchor': 'middle', 'class': 'serif', 'font-size': 36}, g);
    
    
    t.textContent = m;
  });
  monthlyTicks.forEach(function(v){
    tick(monthX(0) - 10, tgY(v), monthX(0) + 6, tgY(v), 3.5, 'y-left-tick');
    tick(monthX(11) - 6, tgY(v), monthX(11) + 10, tgY(v), 3.5, 'y-right-tick');
    var t = make('text', {x: 963, y: tgY(v) + 12, 'text-anchor': 'end', 'class': 'serif', 'font-size': 37}, g);
    
    
    t.textContent = String(v);
  });
  monthlyMinorTicks.forEach(function(v){
    tick(monthX(0) - 6, tgY(v), monthX(0), tgY(v), 2, 'y-left-minor-tick');
    tick(monthX(11), tgY(v), monthX(11) + 6, tgY(v), 2, 'y-right-minor-tick');
  });
  var lg = document.getElementById('legend-layer');
  sourceNames.forEach(function(n, i){
    var yc = 1000.6 + i * 68.7;
    var sw = make('rect', {x: 1794, y: yc - 13.5, width: 42, height: 27, fill: sourceColors[i]}, lg);
    
    
    var t = make('text', {x: 1852.5, y: yc + 6.5, 'class': 'serif', 'font-size': 36.5}, lg);
    
    
    t.textContent = n;
  });
})();
</script>
</body>
</html>
